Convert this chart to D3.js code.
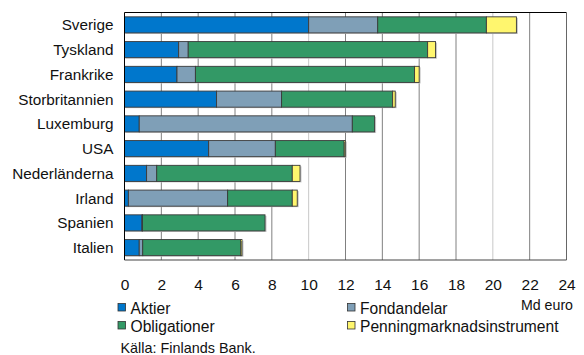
<!DOCTYPE html>
<html><head><meta charset="utf-8">
<script src="https://cdn.jsdelivr.net/npm/d3@7"></script>
<style>body{margin:0;background:#fff}svg{display:block;font-family:"Liberation Sans",Arial,sans-serif}</style>
</head><body><svg id="c" width="584" height="355"></svg>
<script>
const categories = ["Sverige","Tyskland","Frankrike","Storbritannien","Luxemburg","USA","Nederländerna","Irland","Spanien","Italien"];
const aktier       = [10.0, 2.94, 2.85, 5.0, 0.8, 4.57, 1.2, 0.21, 0.95, 0.8];
const fondandelar  = [3.75, 0.52, 1.0, 3.53, 11.57, 3.62, 0.55, 5.39, 0.03, 0.19];
const obligationer = [5.9, 13.0, 11.9, 6.03, 1.21, 3.74, 7.36, 3.51, 6.65, 5.33];
const penning      = [1.63, 0.43, 0.25, 0.14, 0.0, 0.06, 0.42, 0.27, 0.0, 0.06];
const seriesNames = ["Aktier","Fondandelar","Obligationer","Penningmarknadsinstrument"];
const colors = ["#0077CC","#7F9FB7","#339966","#FFF66E"];
const xTicks = [0,2,4,6,8,10,12,14,16,18,20,22,24];

const svg = d3.select("#c");
const L = 124.5, R = 566.5, T = 12.5, B = 260;
const x = d3.scaleLinear().domain([0,24]).range([L,R]);
const y = d3.scaleBand().domain(categories).range([T,B]).paddingInner(0.35).paddingOuter(0.175);

// gridlines
svg.append("g").selectAll("line").data(xTicks.slice(1,-1)).join("line")
  .attr("x1",d=>x(d)).attr("x2",d=>x(d)).attr("y1",T).attr("y2",B)
  .attr("stroke",d=>(d===10||d===20)?"#c8c8c8":"#808080").attr("stroke-width",1);

const data = categories.map((c,i)=>({cat:c,Aktier:aktier[i],Fondandelar:fondandelar[i],Obligationer:obligationer[i],Penningmarknadsinstrument:penning[i]}));
const stack = d3.stack().keys(seriesNames)(data);

// shadows
svg.append("g").selectAll("rect").data(data).join("rect")
  .attr("x",x(0)+1).attr("y",d=>y(d.cat)+1)
  .attr("width",d=>x(d3.sum(seriesNames,k=>d[k]))-x(0)+0.5)
  .attr("height",y.bandwidth()).attr("fill","#c8c8c8");

const g = svg.append("g");
stack.forEach((s,si)=>{
  g.append("g").selectAll("rect").data(s.filter(d=>d[1]-d[0]>0)).join("rect")
    .attr("x",d=>x(d[0])).attr("y",d=>y(d.data.cat))
    .attr("width",d=>x(d[1])-x(d[0])).attr("height",y.bandwidth())
    .attr("fill",colors[si]).attr("stroke","#3a3a3a").attr("stroke-width",0.9);
});

// frame
svg.append("line").attr("x1",L).attr("x2",R).attr("y1",T).attr("y2",T).attr("stroke","#000");
svg.append("line").attr("x1",L).attr("x2",L).attr("y1",T).attr("y2",B).attr("stroke","#000");
svg.append("line").attr("x1",R).attr("x2",R).attr("y1",T).attr("y2",B).attr("stroke","#666");
svg.append("line").attr("x1",L).attr("x2",R).attr("y1",B).attr("y2",B).attr("stroke","#444");

// category labels
svg.append("g").selectAll("text").data(categories).join("text")
  .attr("x",113.5).attr("y",d=>y(d)+y.bandwidth()/2).attr("dy","0.36em")
  .attr("text-anchor","end").attr("font-size",15.3).attr("fill","#111").text(d=>d);

// x tick labels
const xAxis = d3.axisBottom(x).tickValues(xTicks).tickSize(0).tickPadding(0);
const ax = svg.append("g").attr("transform",`translate(0,${B})`).call(xAxis);
ax.select(".domain").remove();
ax.selectAll("text").attr("font-size",15.5).attr("fill","#111").attr("font-family","Liberation Sans, Arial, sans-serif").attr("y",30).attr("dy",0);

svg.append("text").attr("x",573).attr("y",309.5).attr("text-anchor","end").attr("font-size",14.2).attr("fill","#111").text("Md euro");

// legend
const legPos = [[118,303.5],[347.5,303.5],[118,321.5],[347.5,321.5]];
seriesNames.forEach((n,i)=>{
  const [lx,ly] = legPos[i];
  svg.append("rect").attr("x",lx).attr("y",ly).attr("width",7.5).attr("height",7.5)
    .attr("fill",colors[i]).attr("stroke","#333").attr("stroke-width",0.8);
  svg.append("text").attr("x",lx+12.5).attr("y",ly+10.8).attr("font-size",15.6).attr("fill","#111").text(n);
});

svg.append("text").attr("x",120.5).attr("y",353).attr("font-size",14.4).attr("fill","#111").text("Källa: Finlands Bank.");
</script></body></html>
